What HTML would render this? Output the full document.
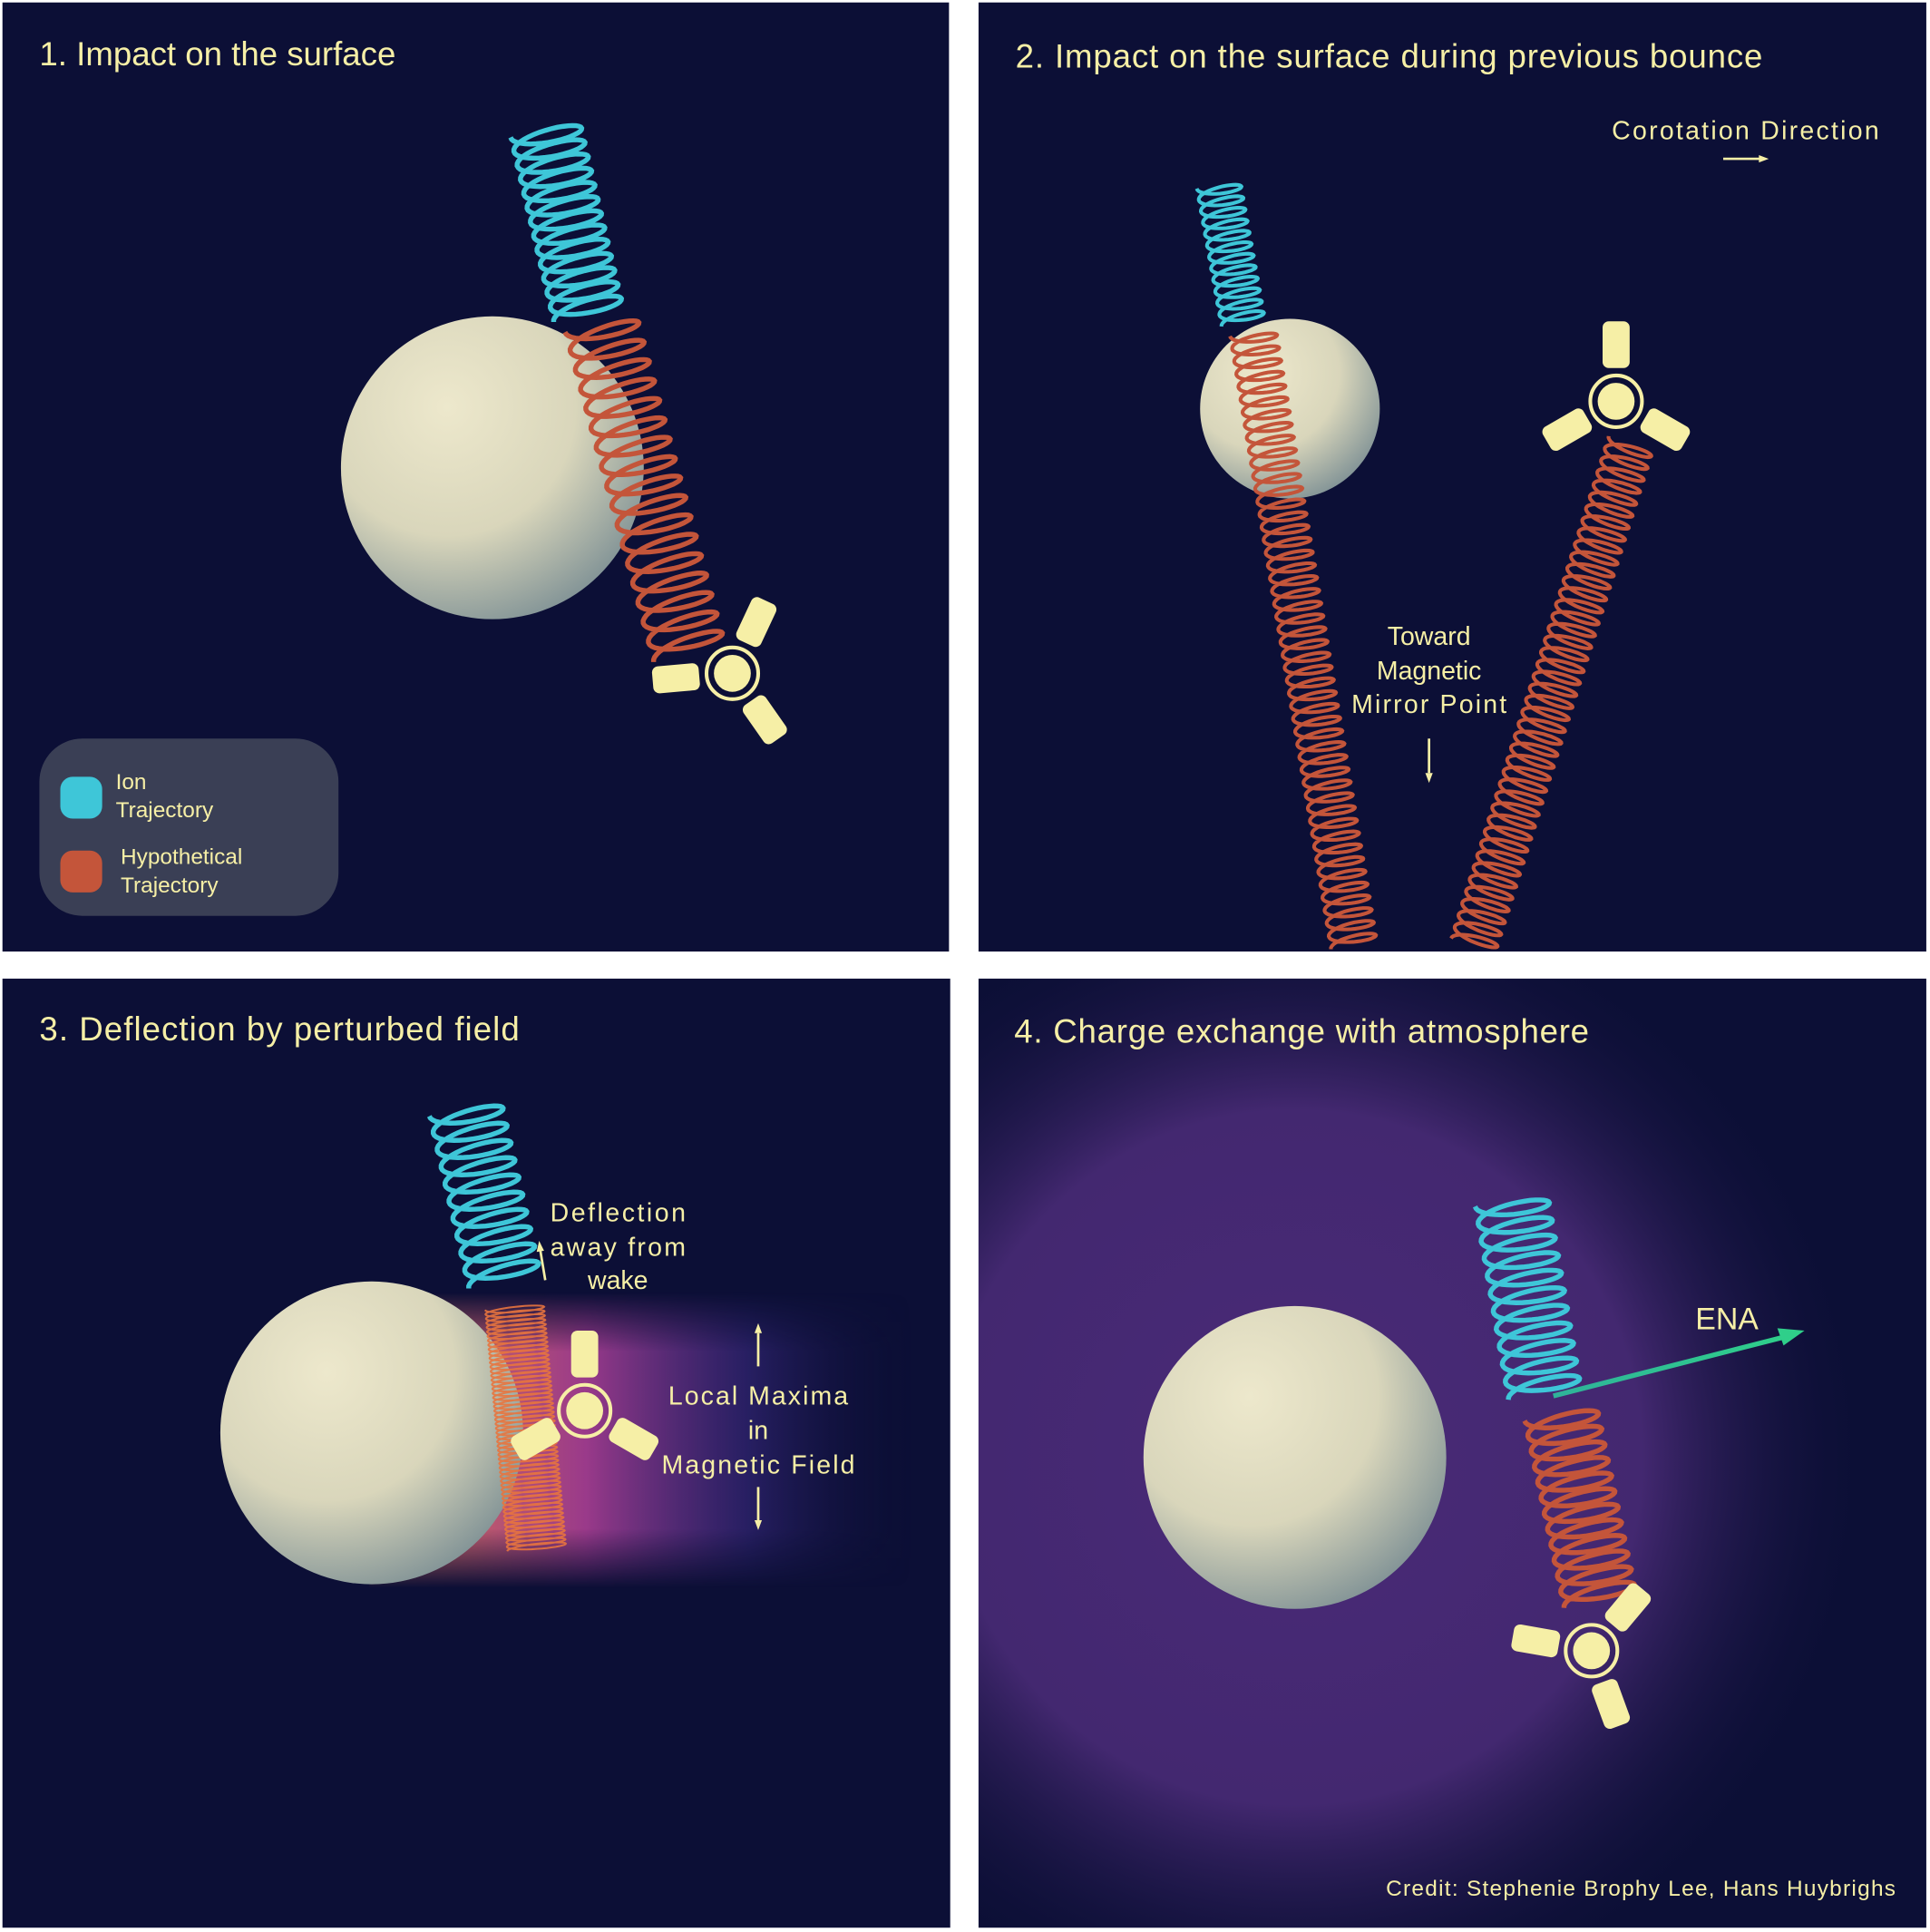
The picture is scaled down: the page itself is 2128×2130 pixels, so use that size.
<!DOCTYPE html>
<html><head><meta charset="utf-8">
<style>
html,body{margin:0;padding:0;background:#fff;width:2128px;height:2130px;overflow:hidden;}
svg{display:block;}
text{font-family:"Liberation Sans",sans-serif;fill:#f6efa6;}
</style></head>
<body>
<svg id="s" width="2128" height="2130" viewBox="0 0 1568 1569.5" preserveAspectRatio="none" xmlns="http://www.w3.org/2000/svg">
<defs>
<radialGradient id="sph" cx="0.35" cy="0.3" r="0.85">
<stop offset="0" stop-color="#ede8cc"/><stop offset="0.5" stop-color="#d9d6bb"/><stop offset="1" stop-color="#6a818c"/>
</radialGradient>
<radialGradient id="glow" cx="0.5" cy="0.5" r="0.5">
<stop offset="0" stop-color="#4a2a78"/><stop offset="0.6" stop-color="#432870"/><stop offset="1" stop-color="#0c0f36" stop-opacity="0"/>
</radialGradient>
<linearGradient id="wake" x1="0" y1="0" x2="1" y2="0">
<stop offset="0" stop-color="#e07a50"/><stop offset="0.4" stop-color="#9a3a8a"/><stop offset="0.7" stop-color="#3a2a80" stop-opacity="0.6"/><stop offset="1" stop-color="#0c0f36" stop-opacity="0"/>
</linearGradient>
<linearGradient id="wakev" x1="0" y1="0" x2="0" y2="1">
<stop offset="0" stop-color="#fff" stop-opacity="0"/><stop offset="0.2" stop-color="#fff" stop-opacity="1"/><stop offset="0.8" stop-color="#fff" stop-opacity="1"/><stop offset="1" stop-color="#fff" stop-opacity="0"/>
</linearGradient>
<mask id="wm"><rect x="280" y="1050" width="480" height="240" fill="url(#wakev)"/></mask>
<clipPath id="p4"><rect x="795" y="795" width="770" height="771"/></clipPath>
<linearGradient id="ena" x1="0" y1="0" x2="1" y2="0"><stop offset="0" stop-color="#2fb39a"/><stop offset="1" stop-color="#2fcf8a"/></linearGradient>
</defs>
<rect x="0" y="0" width="1568" height="1570" fill="#fff"/>
<rect x="2" y="2" width="769" height="771" fill="#0c0f36"/>
<rect x="795" y="2" width="770" height="771" fill="#0c0f36"/>
<rect x="2" y="795" width="770" height="771" fill="#0c0f36"/>
<rect x="795" y="795" width="770" height="771" fill="#0c0f36"/>

<circle cx="1052" cy="1184" r="470" fill="url(#glow)" clip-path="url(#p4)"/>
<rect x="300" y="1050" width="440" height="240" fill="url(#wake)" mask="url(#wm)"/>

<circle cx="400" cy="380" r="123" fill="url(#sph)"/>
<circle cx="1048" cy="332" r="73" fill="url(#sph)"/>
<circle cx="302" cy="1164" r="123" fill="url(#sph)"/>
<circle cx="1052" cy="1184" r="123" fill="url(#sph)"/>

<g id="coils2"></g>
<g id="sats"></g>

<rect x="32" y="600" width="243" height="144" rx="35" fill="#3a3f55"/>
<rect x="49" y="631" width="34" height="34" rx="10" fill="#3ec6d8"/>
<rect x="49" y="691" width="34" height="34" rx="10" fill="#c4553a"/>
<text x="94" y="641" font-size="18">Ion</text>
<text x="94" y="664" font-size="18">Trajectory</text>
<text x="98" y="702" font-size="18">Hypothetical</text>
<text x="98" y="725" font-size="18">Trajectory</text>

<text x="32" y="53" font-size="27">1.  Impact on the surface</text>
<text x="825" y="55" font-size="27" textLength="607">2. Impact on the surface during previous bounce</text>
<text x="32" y="845" font-size="27" textLength="390">3. Deflection by perturbed field</text>
<text x="824" y="847" font-size="27" textLength="467">4. Charge exchange with atmosphere</text>

<text x="1418" y="113" font-size="21" text-anchor="middle" textLength="217">Corotation Direction</text>
<line x1="1400" y1="129" x2="1430" y2="129" stroke="#f6efa6" stroke-width="2"/><path d="M1437 129 l-8 -3 v6z" fill="#f6efa6"/>
<text x="1161" y="524" font-size="21" text-anchor="middle">Toward</text>
<text x="1161" y="552" font-size="21" text-anchor="middle">Magnetic</text>
<text x="1161" y="579" font-size="21" text-anchor="middle" textLength="126">Mirror Point</text>
<line x1="1161" y1="600" x2="1161" y2="628" stroke="#f6efa6" stroke-width="2"/><path d="M1161 636 l-3 -8 h6z" fill="#f6efa6"/>

<text x="502" y="992" font-size="21" text-anchor="middle" textLength="110">Deflection</text>
<text x="502" y="1020" font-size="21" text-anchor="middle" textLength="110">away from</text>
<text x="502" y="1047" font-size="21" text-anchor="middle">wake</text>
<line x1="443" y1="1040" x2="439" y2="1016" stroke="#f6efa6" stroke-width="2"/><path d="M438 1008 l-2 9 l6 -1z" fill="#f6efa6"/>
<text x="616" y="1141" font-size="21" text-anchor="middle" textLength="146">Local Maxima</text>
<text x="616" y="1169" font-size="21" text-anchor="middle">in</text>
<text x="616" y="1197" font-size="21" text-anchor="middle" textLength="157">Magnetic Field</text>
<line x1="616" y1="1110" x2="616" y2="1083" stroke="#f6efa6" stroke-width="2"/><path d="M616 1075 l-3 8 h6z" fill="#f6efa6"/>
<line x1="616" y1="1208" x2="616" y2="1235" stroke="#f6efa6" stroke-width="2"/><path d="M616 1243 l-3 -8 h6z" fill="#f6efa6"/>

<line x1="1262" y1="1134" x2="1450" y2="1086" stroke="url(#ena)" stroke-width="4"/>
<path d="M1466 1081 l-22 -2 l5 14z" fill="#2fcf8a"/>
<text x="1403" y="1080" font-size="25" text-anchor="middle">ENA</text>

<text x="1540" y="1540" font-size="18" text-anchor="end" textLength="414">Credit: Stephenie Brophy Lee, Hans Huybrighs</text>
</svg>
<script>
var NS="http://www.w3.org/2000/svg";
function helix(g,x1,y1,x2,y2,n,r,q,col,w,op){
  var dx=x2-x1,dy=y2-y1,L=Math.sqrt(dx*dx+dy*dy),ux=dx/L,uy=dy/L,px=-uy,py=ux;
  var steps=Math.round(n*36),d="";
  for(var i=0;i<=steps;i++){var t=i/steps,th=2*Math.PI*n*t;
    var a=t*L+q*Math.sin(th),b=r*Math.cos(th);
    var x=x1+ux*a+px*b,y=y1+uy*a+py*b;
    d+=(i?"L":"M")+x.toFixed(1)+" "+y.toFixed(1);}
  var p=document.createElementNS(NS,"path");p.setAttribute("d",d);p.setAttribute("fill","none");
  p.setAttribute("stroke",col);p.setAttribute("stroke-width",w);if(op)p.setAttribute("opacity",op);
  document.getElementById(g).appendChild(p);}
var C="#3ec6d8",O="#c4553a",O2="#e8743e";
helix("coils2",443,105,478,255,13,29,8,C,4);
helix("coils2",488,262,560,530,17,30,8,O,4);
helix("coils2",990,150,1010,262,12,18,5,C,3);
helix("coils2",1018,270,1100,768,48,19,5,O,3);
helix("coils2",1325,360,1197,768,42,19,5,O,3);
helix("coils2",378,900,410,1040,10,30,8,C,4);
helix("coils2",418,1062,436,1258,55,24,3,O2,1.5,0.9);
helix("coils2",1228,975,1255,1132,11,30,8,C,4);
helix("coils2",1268,1148,1300,1300,12,30,8,O,4);
function sat(cx,cy,ang){
  var g=document.getElementById("sats"),s="";
  s+='<circle cx="'+cx+'" cy="'+cy+'" r="21" fill="none" stroke="#f6efa6" stroke-width="3"/>';
  s+='<circle cx="'+cx+'" cy="'+cy+'" r="15" fill="#f6efa6"/>';
  for(var k=0;k<3;k++){var a=ang+k*120;
    s+='<g transform="translate('+cx+' '+cy+') rotate('+a+')"><rect x="-11" y="-65" width="22" height="38" rx="5" fill="#f6efa6"/></g>';}
  g.innerHTML+=s;}
sat(595,547,25);sat(1313,326,0);sat(475,1146,0);sat(1293,1341,40);
</script>
</body></html>
